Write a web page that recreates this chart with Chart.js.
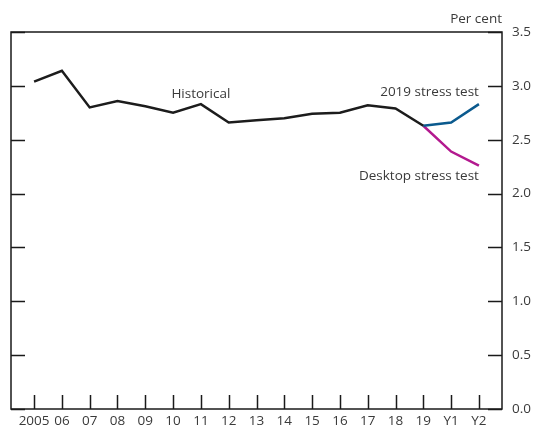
<!DOCTYPE html>
<html>
<head>
<meta charset="utf-8">
<script src="https://cdn.jsdelivr.net/npm/chart.js@4.4.1/dist/chart.umd.min.js"></script>
<style>
  html, body { margin: 0; padding: 0; background: #fff; }
  #wrap { width: 534px; height: 430px; }
</style>
</head>
<body>
<div id="wrap"><canvas id="chart" width="534" height="430"></canvas></div>
<script>
const categories = ['2005', '06', '07', '08', '09', '10', '11', '12', '13', '14', '15', '16', '17', '18', '19', 'Y1', 'Y2'];
const historical = [3.04, 3.14, 2.80, 2.86, 2.81, 2.75, 2.83, 2.66, 2.68, 2.70, 2.74, 2.75, 2.82, 2.79, 2.63];
const stress2019 = [null, null, null, null, null, null, null, null, null, null, null, null, null, null, 2.63, 2.66, 2.83];
const desktop = [null, null, null, null, null, null, null, null, null, null, null, null, null, null, 2.63, 2.39, 2.26];
const yTicks = [0, 0.5, 1, 1.5, 2, 2.5, 3, 3.5];

const FONT = '"Open Sans", Lato, sans-serif';
const TEXT = '#3a3a3a';

const toPoints = arr => arr.map((v, i) => ({ x: i, y: v })).filter(p => p.y !== null);

// frame, inside tick marks and text labels
const decor = {
  id: 'decor',
  afterDraw(chart) {
    const { ctx, chartArea: a, scales: { x, y } } = chart;
    ctx.save();
    ctx.strokeStyle = '#1a1a1a';
    ctx.lineWidth = 1.5;
    ctx.strokeRect(a.left, a.top, a.right - a.left, a.bottom - a.top);
    ctx.beginPath();
    yTicks.forEach(v => {
      const py = Math.round(y.getPixelForValue(v)) + 0.5;
      ctx.moveTo(a.left, py); ctx.lineTo(a.left + 14, py);
      ctx.moveTo(a.right, py); ctx.lineTo(a.right - 14, py);
    });
    categories.forEach((c, i) => {
      const px = Math.round(x.getPixelForValue(i)) + 0.5;
      ctx.moveTo(px, a.bottom); ctx.lineTo(px, a.bottom - 14);
    });
    ctx.stroke();

    ctx.fillStyle = TEXT;
    ctx.font = '13.5px ' + FONT;
    ctx.textBaseline = 'alphabetic';
    ctx.textAlign = 'right';
    ctx.fillText('Per cent', a.right, 23);
    ctx.textAlign = 'center';
    ctx.fillText('Historical', x.getPixelForValue(6), y.getPixelForValue(2.888));
    ctx.textAlign = 'right';
    ctx.fillText('2019 stress test', x.getPixelForValue(16), y.getPixelForValue(2.91));
    ctx.fillText('Desktop stress test', x.getPixelForValue(16), y.getPixelForValue(2.13));
    ctx.restore();
  }
};

new Chart(document.getElementById('chart').getContext('2d'), {
  type: 'line',
  data: {
    datasets: [
      { label: 'Historical', data: toPoints(historical), borderColor: '#1c1c1c' },
      { label: '2019 stress test', data: toPoints(stress2019), borderColor: '#0b5a8e' },
      { label: 'Desktop stress test', data: toPoints(desktop), borderColor: '#b3198f' }
    ]
  },
  options: {
    responsive: false,
    animation: false,
    layout: { padding: { left: 11, top: 32, right: 0, bottom: 0 } },
    elements: {
      line: { borderWidth: 2.5, tension: 0, borderJoinStyle: 'miter' },
      point: { radius: 0 }
    },
    scales: {
      x: {
        type: 'linear',
        min: -0.83,
        max: 16.83,
        grid: { display: false, drawTicks: false },
        border: { display: false },
        afterBuildTicks: s => { s.ticks = categories.map((c, i) => ({ value: i })); },
        afterFit: s => { s.height = 21; },
        ticks: {
          padding: 4,
          maxRotation: 0,
          autoSkip: false,
          color: TEXT,
          font: { family: FONT, size: 13.5 },
          callback: v => categories[v]
        }
      },
      y: {
        position: 'right',
        min: 0,
        max: 3.5,
        grid: { display: false, drawTicks: false },
        border: { display: false },
        afterBuildTicks: s => { s.ticks = yTicks.map(v => ({ value: v })); },
        afterFit: s => { s.width = 32; },
        ticks: {
          padding: 10,
          color: TEXT,
          font: { family: FONT, size: 13.5 },
          callback: v => v.toFixed(1)
        }
      }
    },
    plugins: { legend: { display: false }, tooltip: { enabled: false } }
  },
  plugins: [decor]
});
</script>
</body>
</html>
